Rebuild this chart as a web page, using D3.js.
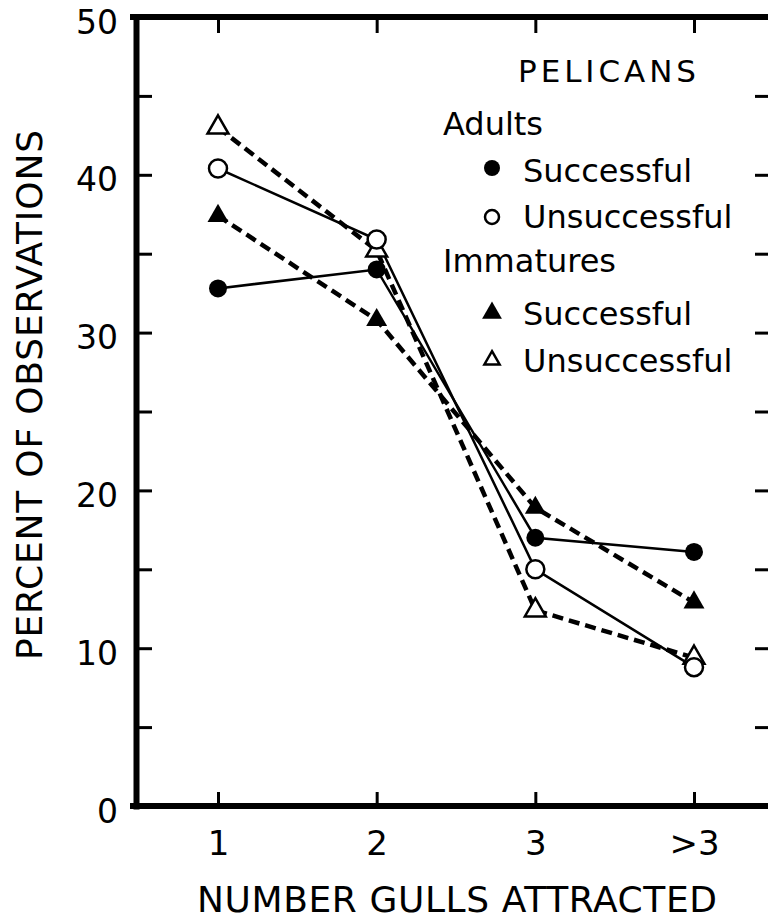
<!DOCTYPE html>
<html>
<head>
<meta charset="utf-8">
<script src="https://cdn.jsdelivr.net/npm/d3@7"></script>
<style>
  body { margin: 0; background: #fff; }
  text { font-family: "DejaVu Sans", sans-serif; fill: #000; }
</style>
</head>
<body>
<script>
// data
var categories = ["1", "2", "3", ">3"];
var adultsSuccessful = [32.8, 34.0, 17.0, 16.1];
var adultsUnsuccessful = [40.4, 35.9, 15.0, 8.8];
var immSuccessful = [37.4, 30.8, 18.9, 12.9];
var immUnsuccessful = [43.0, 35.2, 12.4, 9.4];
var yTicks = [0, 5, 10, 15, 20, 25, 30, 35, 40, 45, 50];

var series = [
  { name: "immU", values: immUnsuccessful, dashed: true, marker: "triangle", filled: false },
  { name: "immS", values: immSuccessful, dashed: true, marker: "triangle", filled: true },
  { name: "adU", values: adultsUnsuccessful, dashed: false, marker: "circle", filled: false },
  { name: "adS", values: adultsSuccessful, dashed: false, marker: "circle", filled: true }
];

var svg = d3.select("body").append("svg")
  .attr("width", 768)
  .attr("height", 920);

// frame edges (right one sits just past the picture edge)
var frameL = 136, frameR = 771, frameT = 17, frameB = 806;

var x = d3.scalePoint().domain(categories).range([218, 694]);
var y = d3.scaleLinear().domain([0, 50]).range([frameB, frameT]);

// frame + ticks
var yLeft = d3.axisLeft(y).tickValues(yTicks).tickSizeInner(-16).tickSizeOuter(0)
  .tickPadding(18).tickFormat(function(d) { return d % 10 === 0 ? d : ""; });
var gl = svg.append("g").attr("transform", "translate(" + frameL + ",0)").call(yLeft);
gl.selectAll("text").attr("dy", null).attr("y", 16).style("font-size", "33px");

var yRight = d3.axisRight(y).tickValues(yTicks).tickSizeInner(-16).tickSizeOuter(0).tickFormat("");
svg.append("g").attr("transform", "translate(" + frameR + ",0)").call(yRight);

var xBottom = d3.axisBottom(x).tickSizeInner(-14).tickSizeOuter(0).tickPadding(0);
var gb = svg.append("g").attr("transform", "translate(0," + frameB + ")").call(xBottom);
gb.selectAll("text").attr("dy", null).attr("y", 49).style("font-size", "34px");

var xTop = d3.axisTop(x).tickSizeInner(-16).tickSizeOuter(0).tickFormat("");
var gt = svg.append("g").attr("transform", "translate(0," + frameT + ")").call(xTop);

svg.selectAll(".domain").attr("stroke", "#000").attr("stroke-width", 6).attr("stroke-linecap", "square");
svg.selectAll(".tick line").attr("stroke", "#000").attr("stroke-width", 3);
gb.select(".domain").attr("d", "M" + (frameL - 3) + ",0H" + (frameR + 3));
gt.select(".domain").attr("d", "M" + (frameL - 3) + ",0H" + (frameR + 3));

// lines
var line = d3.line()
  .x(function(d, i) { return x(categories[i]); })
  .y(function(d) { return y(d); });

svg.selectAll(".series")
  .data(series)
  .enter().append("path")
  .attr("class", "series")
  .attr("d", function(s) { return line(s.values); })
  .attr("fill", "none")
  .attr("stroke", "#000")
  .attr("stroke-width", function(s) { return s.dashed ? 4.5 : 2.5; })
  .attr("stroke-dasharray", function(s) { return s.dashed ? "11,6" : null; });

// markers
function drawMarker(g, type, filled, cx, cy, big) {
  if (type === "circle") {
    g.append("circle")
      .attr("cx", cx).attr("cy", cy)
      .attr("r", big ? 9 : (filled ? 8 : 7))
      .attr("fill", filled ? "#000" : "#fff")
      .attr("stroke", "#000")
      .attr("stroke-width", filled ? 0 : 2.5);
  } else {
    var size = big ? 190 : (filled ? 170 : 100);
    g.append("path")
      .attr("d", d3.symbol().type(d3.symbolTriangle).size(size)())
      .attr("transform", "translate(" + cx + "," + cy + ")")
      .attr("fill", filled ? "#000" : "#fff")
      .attr("stroke", "#000")
      .attr("stroke-width", filled ? 0 : 2.5);
  }
}

var markers = svg.append("g");
series.forEach(function(s) {
  s.values.forEach(function(v, i) {
    drawMarker(markers, s.marker, s.filled, x(categories[i]), y(v), true);
  });
});

// legend
var legend = svg.append("g");
legend.append("text").attr("x", 518).attr("y", 82).style("font-size", "31px")
  .attr("textLength", 178).attr("lengthAdjust", "spacing").text("PELICANS");
legend.append("text").attr("x", 443).attr("y", 135).style("font-size", "32px").text("Adults");
legend.append("text").attr("x", 443).attr("y", 272).style("font-size", "32px").text("Immatures");

var legendRows = [
  { label: "Successful", marker: "circle", filled: true, my: 168, ty: 182 },
  { label: "Unsuccessful", marker: "circle", filled: false, my: 217, ty: 228 },
  { label: "Successful", marker: "triangle", filled: true, my: 313, ty: 325 },
  { label: "Unsuccessful", marker: "triangle", filled: false, my: 360, ty: 372 }
];
legendRows.forEach(function(r) {
  drawMarker(legend, r.marker, r.filled, 492, r.my, false);
  legend.append("text").attr("x", 523).attr("y", r.ty).style("font-size", "32px").text(r.label);
});

// axis titles
svg.append("text")
  .attr("x", 197).attr("y", 912)
  .style("font-size", "36px")
  .attr("textLength", 520).attr("lengthAdjust", "spacing")
  .text("NUMBER GULLS ATTRACTED");

svg.append("text")
  .attr("transform", "translate(42,660) rotate(-90)")
  .style("font-size", "36px")
  .attr("textLength", 530).attr("lengthAdjust", "spacing")
  .text("PERCENT OF OBSERVATIONS");
</script>
</body>
</html>
